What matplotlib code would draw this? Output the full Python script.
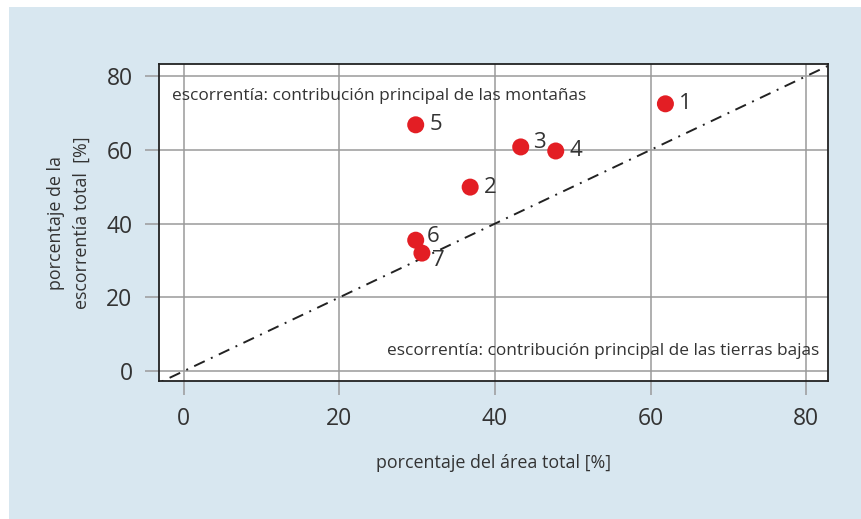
import matplotlib
import matplotlib.pyplot as plt
from matplotlib.patches import Rectangle
matplotlib.use('agg')

plt.rcParams['font.family'] = ['Open Sans', 'DejaVu Sans']

# valores
area_pct = [61.9, 36.8, 43.3, 47.8, 29.8, 29.8, 30.6]
escorrentia_pct = [72.5, 49.9, 60.8, 59.7, 66.8, 35.5, 32.0]
point_labels = ['1', '2', '3', '4', '5', '6', '7']
label_offsets = [(10, 0), (10, 0), (9, 3), (10, 0), (10, 0), (8, 3), (7, -5)]
ticks = [0, 20, 40, 60, 80]

bg_blue = '#d8e7f0'
text_col = '#333333'
grid_col = '#9a9a9a'
red = '#e31e24'

fig = plt.figure(figsize=(8.62, 5.19), dpi=100, facecolor='white')
fig.patches.append(Rectangle((9 / 862, 0), 1, 1 - 7 / 519, transform=fig.transFigure,
                             facecolor=bg_blue, edgecolor='none', zorder=-10))

ax = fig.add_axes([159 / 862, 1 - 381 / 519, 669 / 862, 317 / 519])
ax.set_facecolor('white')
ax.set_xlim(-3.2, 82.8)
ax.set_ylim(-2.7, 83.3)

ax.set_xticks(ticks)
ax.set_yticks(ticks)
ax.grid(True, color=grid_col, linewidth=1.1, zorder=0)
ax.tick_params(axis='both', length=10, width=1.1, color=grid_col, labelcolor=text_col,
               labelsize=16.5, pad=9)
for sp in ax.spines.values():
    sp.set_color('#222222')
    sp.set_linewidth(1.3)

ax.plot([-5, 90], [-5, 90], color='#222222', linewidth=1.4,
        dashes=[6, 3.5, 1, 3.5], zorder=2)

ax.scatter(area_pct, escorrentia_pct, s=150, color=red, edgecolors='none', zorder=3)
for x, y, lab, off in zip(area_pct, escorrentia_pct, point_labels, label_offsets):
    ax.annotate(lab, (x, y), xytext=off, textcoords='offset points',
                fontsize=16, color=text_col, va='center', ha='left', zorder=4)

ax.text(0.019, 0.899, 'escorrentía: contribución principal de las montañas',
        transform=ax.transAxes, fontsize=12.4, color=text_col, ha='left', va='center')
ax.text(0.987, 0.095, 'escorrentía: contribución principal de las tierras bajas',
        transform=ax.transAxes, fontsize=12.4, color=text_col, ha='right', va='center')

ax.set_xlabel('porcentaje del área total [%]', fontsize=12.9, color=text_col, labelpad=16)
ax.set_ylabel('porcentaje de la\nescorrentía total  [%]', fontsize=12.9, color=text_col,
              labelpad=11, linespacing=1.6)

fig.savefig('out.png', dpi=100, facecolor=fig.get_facecolor())
